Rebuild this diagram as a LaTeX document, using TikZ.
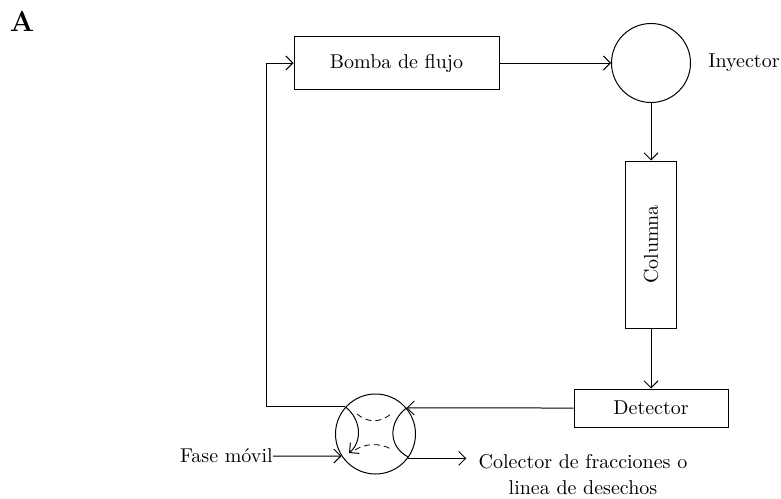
\documentclass[tikz,border=0pt]{standalone}
\usetikzlibrary{arrows.meta}
\tikzstyle{block}=[draw,rectangle,line width=0.5pt,inner sep=0pt]
\tikzstyle{disc}=[draw,circle,line width=0.5pt,minimum size=40pt,inner sep=0pt]
\tikzstyle{flow}=[line width=0.5pt,-{Straight Barb[length=3.5pt,width=7pt]}]
\tikzstyle{label}=[inner sep=0pt]
\begin{document}
\begin{tikzpicture}[x=0.5pt,y=-0.5pt]
    \useasboundingbox (0,0) rectangle (781,498);
    \node[font=\bfseries\Large] (tag) at (22,21) {A};
    \node[block,minimum width=102.5pt,minimum height=26.5pt] (bomba) at (396.5,63) {Bomba de flujo};
    \node[disc,minimum size=39.5pt] (iny) at (651,63) {};
    \node[label,anchor=west] (inylbl) at (708,63) {Inyector};
    \node[block,minimum width=25.5pt,minimum height=83.5pt] (col) at (651,244.5) {\rotatebox{90}{Columna}};
    \node[block,minimum width=77pt,minimum height=19pt] (det) at (651,408) {Detector};
    \node[disc] (valve) at (375.5,434) {};
    \node[label,anchor=east] (fase) at (273,456) {Fase m\'ovil};
    \node[align=center,inner xsep=6pt] (out) at (583,475) {Colector de fracciones o\\[1pt]linea de desechos};
    \coordinate (corner) at (266,63);

    \foreach \from/\to in {bomba/iny,iny/col,col/det}
    \draw[flow] (\from) -- (\to);
    \draw[flow] (det.west) -- (valve.40);
    \draw[flow] (valve.138) -- (valve.138 -| corner) |- (bomba.west);
    \draw[flow] (fase.east) -- (valve.213);
    \draw[flow] (valve.-37) -- (valve.-37 -| out.west);

    % inside the valve
    \draw[flow] (valve.138) .. controls (362,420) and (362,442) .. (349,453);
    \draw[line width=0.5pt] (valve.-35) .. controls (388,447) and (388,422) .. (valve.40);
    \draw[dash pattern=on 3pt off 2pt] (357,414) .. controls (368,423) and (380,423) .. (391,414);
    \draw[dash pattern=on 3pt off 2pt] (355,450) .. controls (366,443) and (380,443) .. (391,449);
\end{tikzpicture}
\end{document}
